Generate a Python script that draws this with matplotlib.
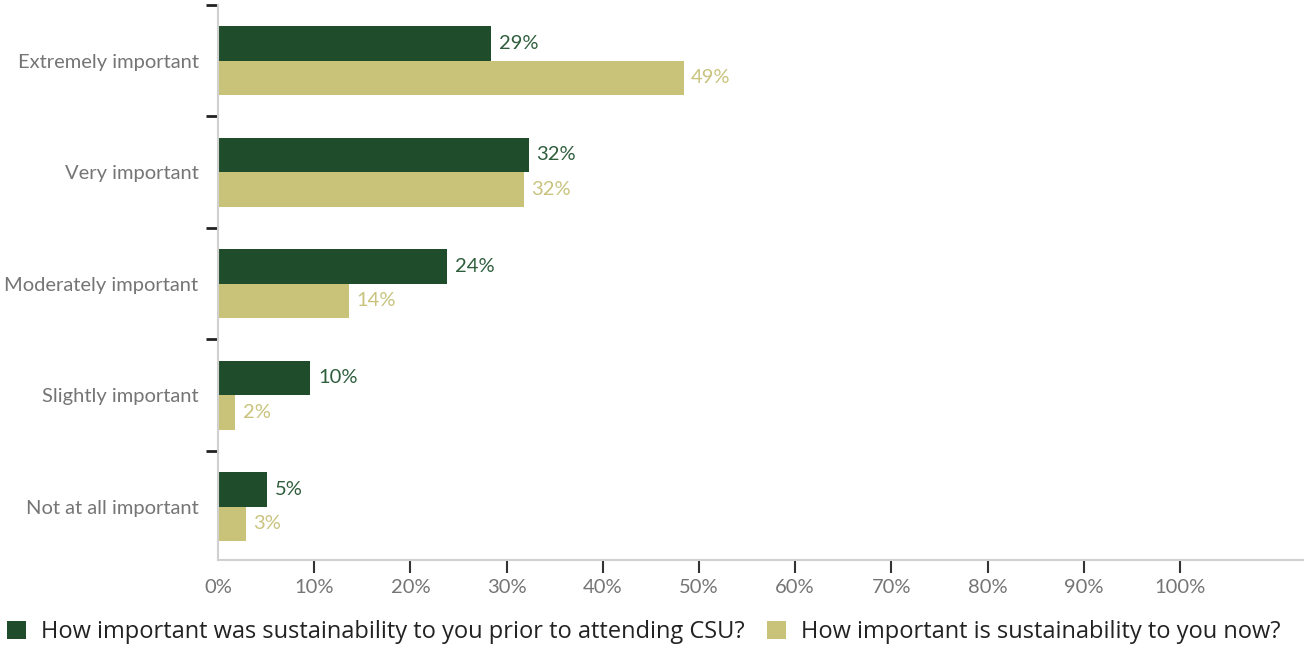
import matplotlib
matplotlib.use("Agg")
import matplotlib.pyplot as plt
from matplotlib.patches import Patch
import numpy as np

categories = ["Extremely important", "Very important", "Moderately important",
              "Slightly important", "Not at all important"]
prior_values = [28.4, 32.3, 23.8, 9.6, 5.1]
now_values = [48.4, 31.8, 13.6, 1.8, 2.9]
prior_labels = ["29%", "32%", "24%", "10%", "5%"]
now_labels = ["49%", "32%", "14%", "2%", "3%"]
series_names = ["How important was sustainability to you prior to attending CSU?",
                "How important is sustainability to you now?"]
x_ticks = [0, 10, 20, 30, 40, 50, 60, 70, 80, 90, 100]
x_ticklabels = [f"{t}%" for t in x_ticks]

GREEN = "#1f4d2b"
YELLOW = "#c8c379"
GREEN_TXT = "#2f5e3c"
YELLOW_TXT = "#c9c37e"
GREY_TXT = "#757575"

LABEL_FONT = "Lato"
LEGEND_FONT = "Open Sans"

fig = plt.figure(figsize=(13.07, 6.5), dpi=100)
ax = fig.add_axes([218/1307, (650-560)/650, (1303-218)/1307, (560-5)/650])

y = np.arange(len(categories))
h = 0.31
ax.barh(y - h/2, prior_values, height=h, color=GREEN)
ax.barh(y + h/2, now_values, height=h, color=YELLOW)

for yi, v, lab in zip(y, prior_values, prior_labels):
    ax.annotate(lab, (v, yi - h/2), xytext=(5.5, 0), textcoords="offset points",
                va="center", ha="left", color=GREEN_TXT, fontsize=14.5, family=LABEL_FONT)
for yi, v, lab in zip(y, now_values, now_labels):
    ax.annotate(lab, (v, yi + h/2), xytext=(5.5, 0), textcoords="offset points",
                va="center", ha="left", color=YELLOW_TXT, fontsize=14.5, family=LABEL_FONT)

ax.set_xlim(0, 112.8)
ax.set_ylim(4.48, -0.5)

ax.set_xticks(x_ticks)
ax.set_xticklabels(x_ticklabels, color=GREY_TXT, fontsize=14.5, family=LABEL_FONT)
ax.tick_params(axis="x", length=9, width=1.5, color="#333333", pad=5)
ax.xaxis.get_major_ticks()[0].tick1line.set_visible(False)

ax.set_yticks(np.arange(len(categories)) - 0.5)
ax.set_yticklabels([])
ax.tick_params(axis="y", which="major", length=9, width=2, color="#222222")
ax.set_yticks(y, minor=True)
ax.set_yticklabels(categories, minor=True, color=GREY_TXT, fontsize=14.5, family=LABEL_FONT)
ax.tick_params(axis="y", which="minor", length=0, pad=14)

for s in ["top", "right"]:
    ax.spines[s].set_visible(False)
for s in ["left", "bottom"]:
    ax.spines[s].set_color("#d0d0d0")
    ax.spines[s].set_linewidth(1.5)

handles = [Patch(facecolor=GREEN), Patch(facecolor=YELLOW)]
leg = fig.legend(handles, series_names, loc="center left", bbox_to_anchor=(0.0, (650-632)/650),
                 ncol=2, frameon=False, handlelength=0.8, handleheight=0.8,
                 handletextpad=0.64, columnspacing=0.93, borderaxespad=0.0, borderpad=0.3,
                 prop={"family": LEGEND_FONT, "size": 17})
for t in leg.get_texts():
    t.set_color("#222222")

fig.savefig("out.png", dpi=100)
